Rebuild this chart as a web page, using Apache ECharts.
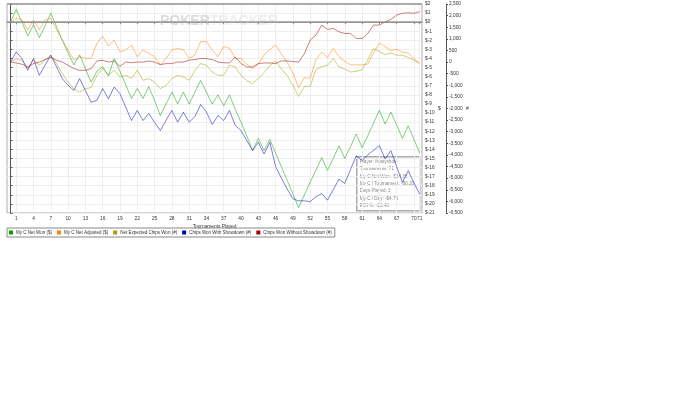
<!DOCTYPE html>
<html><head><meta charset="utf-8">
<script src="https://cdn.jsdelivr.net/npm/echarts@6/dist/echarts.min.js"></script>
<style>html,body{margin:0;padding:0;background:#fff}#c{width:700px;height:400px}</style>
</head><body><div id="c"></div>
<script>
const xTickLabels = [1,4,7,10,13,16,19,22,25,28,31,34,37,40,43,46,49,52,55,58,61,64,67,70,71];
const seriesNames = ['My C Net Won ($)','My C Net Adjusted ($)','Net Expected Chips Won (#)','Chips Won With Showdown (#)','Chips Won Without Showdown (#)'];
const netWon = [0,1.4,0,-1.5,-0.3,-1.7,-0.4,1.0,-0.5,-2.0,-3.4,-4.7,-3.6,-5.1,-6.6,-5.4,-4.9,-5.9,-4.0,-5.4,-6.9,-8.4,-7.3,-8.4,-7.1,-8.6,-10.3,-9.0,-7.7,-9.0,-7.7,-9.0,-7.7,-6.4,-7.7,-9.0,-8.0,-9.2,-8.0,-9.6,-11.0,-12.5,-14.1,-12.8,-14.1,-12.9,-14.4,-15.9,-17.4,-18.9,-20.4,-19.0,-17.6,-16.3,-14.9,-16.3,-15.0,-13.6,-15.0,-13.7,-12.3,-13.8,-12.5,-11.1,-9.7,-11.2,-9.9,-11.3,-12.8,-11.4,-12.9,-14.4];
const netAdjusted = [0,0.44,0.25,-0.85,0.25,-0.85,0.25,0.44,-0.85,-1.96,-3.06,-4.17,-3.8,-3.98,-3.98,-2.32,-1.59,-2.62,-1.96,-3.25,-3.06,-2.51,-3.8,-3.06,-3.43,-3.8,-4.72,-3.98,-3.06,-2.88,-3.06,-3.98,-3.62,-2.14,-2.14,-3.06,-3.8,-2.7,-2.88,-3.98,-4.0,-4.6,-5.1,-4.6,-3.6,-3.0,-2.5,-3.5,-4.4,-5.6,-7.2,-6.1,-6.2,-4.1,-3.3,-3.9,-2.9,-3.8,-4.3,-4.7,-4.7,-4.7,-4.6,-3.4,-2.3,-2.7,-3.1,-3.0,-3.3,-3.4,-4.0,-4.5];
const expectedChips = [0,151,78,-281,108,-138,78,294,-65,-497,-860,-1146,-1293,-1146,-1103,-571,-281,-571,-355,-644,-571,-714,-355,-787,-714,-860,-1146,-1003,-714,-571,-644,-787,-355,-65,-138,-428,-571,-571,-138,-212,-571,-800,-930,-700,-450,-150,48,-300,-571,-1000,-1479,-1047,-1047,-324,-200,-138,151,-212,-300,-428,-400,-324,100,584,450,324,394,294,294,200,80,-65];
const withShowdown = [0,437,151,-355,151,-571,-138,294,-212,-714,-1003,-1220,-714,-1220,-1726,-1652,-1146,-1580,-1076,-1364,-1942,-2517,-2085,-2517,-2214,-2600,-2950,-2500,-2085,-2590,-2157,-2590,-2350,-1830,-2150,-2690,-2300,-2517,-2085,-2733,-2950,-3380,-3815,-3455,-3957,-3455,-4500,-5000,-5460,-5890,-5977,-5977,-6007,-5800,-5661,-5947,-5500,-5039,-5229,-4630,-4031,-4247,-4000,-3800,-3598,-4174,-3815,-4500,-5186,-4680,-5200,-5687];
const withoutShowdown = [0,-39,-95,-212,-65,0,108,195,78,0,-138,-281,-355,-355,-281,48,78,0,48,-182,0,-30,0,0,48,0,-108,-65,-65,0,0,78,108,151,151,108,0,-30,-39,221,-65,-212,-212,-65,-39,-39,-65,48,48,20,0,368,943,1160,1592,1405,1448,1300,1232,1232,1016,1016,1232,1592,1592,1734,1838,2024,2098,2124,2098,2167];
const tooltipLines = ['Player: frostyshole','Tournaments: 71','My C Net Won: -$14.36','My C / Tournament: -$0.20','Days Played: 3','My C / Day: -$4.79','ROI %: -13.46'];
const colors = ['#00a000','#ff8000','#a0a000','#0000c0','#a00000'];

const chart = echarts.init(document.getElementById('c'), null, {renderer:'canvas'});
const FONT = 'Liberation Sans, Arial, sans-serif';
function mk(name, data, yi, ci, extra){
  return Object.assign({
    name, type:'line', yAxisIndex: yi, showSymbol:false, symbol:'none',
    data: data.map((v,i)=>[i,v]),
    itemStyle:{color:colors[ci]},
    lineStyle:{color:colors[ci], width:1, opacity:0.5},
    animation:false, z: 3
  }, extra||{});
}
const series = [
  mk(seriesNames[0], netWon, 0, 0, {markLine:{silent:true, symbol:'none', label:{show:false}, lineStyle:{color:'#999', width:1.5, type:'solid'}, data:[{yAxis:0},{yAxis:2}]}}),
  mk(seriesNames[1], netAdjusted, 0, 1),
  mk(seriesNames[2], expectedChips, 1, 2),
  mk(seriesNames[3], withShowdown, 1, 3),
  mk(seriesNames[4], withoutShowdown, 1, 4)
];
const tipChildren = [{type:'rect', shape:{x:0,y:0,width:63,height:54}, style:{fill:'rgba(255,255,255,0.65)', stroke:'#aaa', lineWidth:1.5}}];
tooltipLines.forEach((t,i)=>tipChildren.push({type:'text', x:3, y:2.5+i*7.3, style:{text:t, fill:'#888', font:'4.6px '+FONT}}));
chart.setOption({
  animation:false,
  grid:{left:7, top:4, right:278, bottom:187, show:true, borderColor:'#aaa', borderWidth:1},
  legend:{left:7, top:228, orient:'horizontal', icon:'rect', itemWidth:4, itemHeight:4, itemGap:5,
    borderColor:'#888', borderWidth:1, padding:[2,3,2,2], textStyle:{fontSize:4.5, color:'#333', fontFamily:FONT, padding:[0,0,0,-2]},
    data: seriesNames},
  xAxis:{type:'value', min:-0.6, max:71.4, name:'Tournaments Played', nameLocation:'middle', nameGap:11, nameMoveOverlap:false,
    nameTextStyle:{fontSize:4.8, color:'#333', fontFamily:FONT},
    axisLine:{show:true, lineStyle:{color:'#888'}},
    axisTick:{show:true, length:2, customValues:xTickLabels, lineStyle:{color:'#888'}},
    axisLabel:{customValues:xTickLabels, fontSize:4.8, color:'#333', fontFamily:FONT, margin:3},
    splitLine:{show:true, lineStyle:{color:'#eee', width:1}}},
  yAxis:[
    {type:'value', position:'right', min:-21, max:2, interval:1, name:'$', nameLocation:'middle', nameGap:16, nameRotate:0, nameMoveOverlap:false,
      nameTextStyle:{fontSize:5, color:'#333', fontFamily:FONT},
      axisLine:{show:true, lineStyle:{color:'#555'}}, axisTick:{show:true, length:2, lineStyle:{color:'#555'}},
      axisLabel:{fontSize:4.8, color:'#333', fontFamily:FONT, margin:3, formatter:v=>'$'+v},
      splitLine:{show:true, lineStyle:{color:'#eee', width:1}}},
    {type:'value', position:'right', offset:24, min:-6500, max:2500, interval:500, name:'#', nameLocation:'middle', nameGap:20, nameRotate:0, nameMoveOverlap:false,
      nameTextStyle:{fontSize:5, color:'#333', fontFamily:FONT},
      axisLine:{show:true, lineStyle:{color:'#555'}}, axisTick:{show:true, length:2, lineStyle:{color:'#555'}},
      axisLabel:{fontSize:4.8, color:'#333', fontFamily:FONT, margin:3, formatter:v=>v.toLocaleString('en-US')},
      splitLine:{show:false}}
  ],
  graphic:[
    {type:'text', left:160, top:14, z:1, style:{text:'{a|POKER}{b|TRACKER}', rich:{a:{fontSize:14, fontWeight:'bold', fill:'#dcdcdc', fontFamily:FONT}, b:{fontSize:14, fontWeight:'bold', fill:'#eeeeee', fontFamily:FONT}}}},
    {type:'group', left:356, top:156, z:100, children: tipChildren}
  ],
  series
});
</script></body></html>
